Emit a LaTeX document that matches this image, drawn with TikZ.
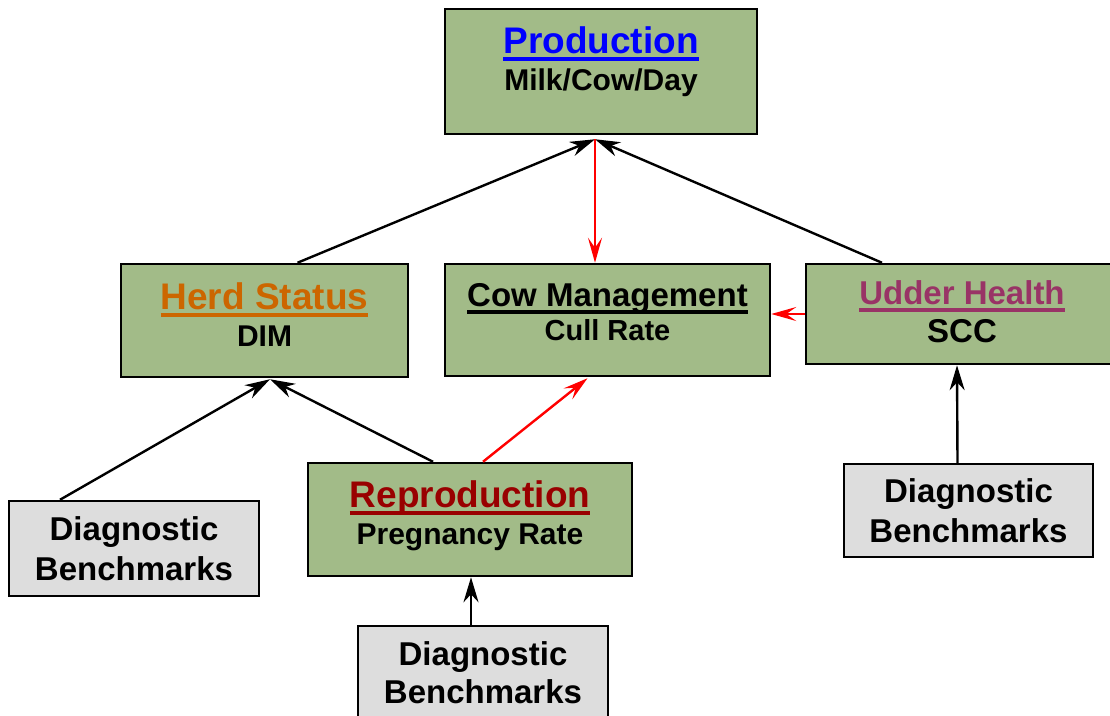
\documentclass[tikz,border=0pt]{standalone}
\usepackage{fontspec}
\setmainfont{Liberation Sans}
\usetikzlibrary{arrows.meta}
\definecolor{boxgreen}{RGB}{162,187,136}
\definecolor{boxgray}{RGB}{221,221,221}
\definecolor{tblue}{RGB}{0,0,255}
\definecolor{torange}{RGB}{204,102,0}
\definecolor{tmagenta}{RGB}{153,51,102}
\definecolor{tred}{RGB}{153,0,0}
\newcommand\myul[1]{\setbox0\hbox{#1}\rlap{\rule[-8pt]{\wd0}{3.6pt}}\box0}
\tikzset{
  gbox/.style={draw=black, line width=2.5pt, fill=boxgreen, inner sep=0pt},
  dbox/.style={draw=black, line width=2.5pt, fill=boxgray, inner sep=0pt},
  lbl/.style={anchor=base, inner sep=0pt, font=\bfseries},
  blk/.style={draw=black, line width=2.4pt, -{Stealth[length=25pt,width=15pt,inset=8pt]}},
  redarr/.style={draw=red, line width=2.4pt, -{Stealth[length=25pt,width=14pt,inset=10pt]}},
}
\begin{document}
\begin{tikzpicture}[x=1pt,y=-1pt]
\useasboundingbox (0,0) rectangle (1110,715);
% boxes
\node[gbox, minimum width=312pt, minimum height=125pt] (prod) at (601,71.5) {};
\node[gbox, minimum width=287pt, minimum height=113pt] (herd) at (264.5,320.5) {};
\node[gbox, minimum width=325pt, minimum height=112pt] (cm) at (607.5,320) {};
\node[gbox, minimum width=306pt, minimum height=100pt] (udder) at (959,314) {};
\node[gbox, minimum width=324pt, minimum height=113pt] (rep) at (470,519.5) {};
\node[dbox, minimum width=250pt, minimum height=95pt] (dl) at (134,548.5) {};
\node[dbox, minimum width=250pt, minimum height=99pt] (db) at (483,675.5) {};
\node[dbox, minimum width=249pt, minimum height=93pt] (dr) at (968.5,510.5) {};
% labels
\node[lbl, text=tblue, font=\bfseries\fontsize{37}{40}\selectfont] (prodT) at (601,53) {\myul{Production}};
\node[lbl, font=\bfseries\fontsize{30}{34}\selectfont] (prodS) at (601,90) {Milk/Cow/Day};
\node[lbl, text=torange, font=\bfseries\fontsize{37}{40}\selectfont] (herdT) at (264.5,309) {\myul{Herd Status}};
\node[lbl, font=\bfseries\fontsize{30}{34}\selectfont] (herdS) at (264.5,346) {DIM};
\node[lbl, font=\bfseries\fontsize{33}{36}\selectfont] (cmT) at (607.5,306) {\myul{Cow Management}};
\node[lbl, font=\bfseries\fontsize{29}{32}\selectfont] (cmS) at (607.5,340) {Cull Rate};
\node[lbl, text=tmagenta, font=\bfseries\fontsize{33}{36}\selectfont] (udT) at (962,304) {\myul{Udder Health}};
\node[lbl, font=\bfseries\fontsize{33}{36}\selectfont] (udS) at (962,342) {SCC};
\node[lbl, text=tred, font=\bfseries\fontsize{37}{40}\selectfont] (repT) at (470,507) {\myul{Reproduction}};
\node[lbl, font=\bfseries\fontsize{30}{34}\selectfont] (repS) at (470,544) {Pregnancy Rate};
\node[lbl, font=\bfseries\fontsize{33}{36}\selectfont] (dlA) at (134,540) {Diagnostic};
\node[lbl, font=\bfseries\fontsize{33}{36}\selectfont] (dlB) at (134,580) {Benchmarks};
\node[lbl, font=\bfseries\fontsize{33}{36}\selectfont] (dbA) at (483,665) {Diagnostic};
\node[lbl, font=\bfseries\fontsize{33}{36}\selectfont] (dbB) at (483,703) {Benchmarks};
\node[lbl, font=\bfseries\fontsize{33}{36}\selectfont] (drA) at (968.5,502) {Diagnostic};
\node[lbl, font=\bfseries\fontsize{33}{36}\selectfont] (drB) at (968.5,542) {Benchmarks};
% connector points
\coordinate (pin1) at ([xshift=-6pt,yshift=-4pt]prod.south);
\coordinate (pin2) at ([xshift=5.5pt,yshift=-1pt]herd.south);
% connectors
\draw[blk] ([xshift=33pt]herd.north) -- (pin1);
\draw[blk] ([xshift=-77pt]udder.north) -- (pin1);
\draw[redarr] (pin1) -- ([xshift=-12.5pt]cm.north);
\draw[redarr] (udder.west) -- (udder.west -| cm.east);
\draw[blk] ([xshift=-74pt]dl.north) -- (pin2);
\draw[blk] ([xshift=-37pt]rep.north) -- (pin2);
\draw[redarr] ([xshift=13pt]rep.north) -- ([xshift=-20pt,yshift=-1pt]cm.south);
\draw[blk] ([xshift=-12pt]db.north) -- ([xshift=1pt]rep.south);
\draw[blk] ([xshift=-11pt]dr.north) -- ([xshift=-2pt]udder.south);
\end{tikzpicture}
\end{document}
